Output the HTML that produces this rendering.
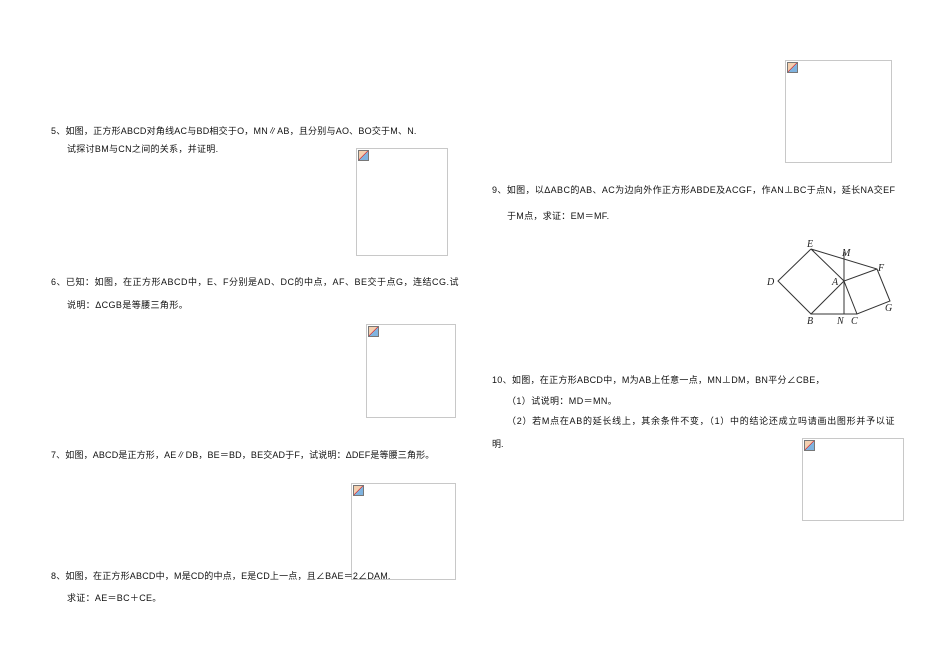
<!DOCTYPE html>
<html><head><meta charset="utf-8"><style>
body{margin:0;width:950px;height:671px;background:#fff;position:relative;overflow:hidden;font-family:"Liberation Sans","Noto Sans CJK SC",sans-serif;font-size:9px;color:#111}
.t{position:absolute;white-space:nowrap;line-height:10px}
.b{position:absolute;border:1px solid #c8c8c8;box-sizing:border-box}
.b i{position:absolute;left:1px;top:1px;width:11px;height:11px;background:linear-gradient(135deg,#f4d0b0 0 45%,#d33 45% 52%,#7fb3df 52%);border:1px solid #777;box-sizing:border-box}
</style></head><body>
<div class="b" style="left:785px;top:60px;width:107px;height:103px"><i></i></div>
<div class="b" style="left:356px;top:148px;width:92px;height:108px"><i></i></div>
<div class="b" style="left:366px;top:324px;width:90px;height:94px"><i></i></div>
<div class="b" style="left:351px;top:483px;width:105px;height:97px"><i></i></div>
<div class="b" style="left:802px;top:438px;width:102px;height:83px"><i></i></div>

<div class="t" style="left:51px;top:126px;letter-spacing:0.22px">5、如图，正方形ABCD对角线AC与BD相交于O，MN∥AB，且分别与AO、BO交于M、N.</div>
<div class="t" style="left:67px;top:144px;letter-spacing:0.3px">试探讨BM与CN之间的关系，并证明.</div>
<div class="t" style="left:51px;top:277px;letter-spacing:0.5px">6、已知：如图，在正方形ABCD中，E、F分别是AD、DC的中点，AF、BE交于点G，连结CG.试</div>
<div class="t" style="left:67px;top:300px;letter-spacing:0.4px">说明：ΔCGB是等腰三角形。</div>
<div class="t" style="left:51px;top:450px;letter-spacing:0.15px">7、如图，ABCD是正方形，AE∥DB，BE＝BD，BE交AD于F，试说明：ΔDEF是等腰三角形。</div>
<div class="t" style="left:51px;top:571px;letter-spacing:0.2px">8、如图，在正方形ABCD中，M是CD的中点，E是CD上一点，且∠BAE＝2∠DAM.</div>
<div class="t" style="left:67px;top:593px;letter-spacing:0.3px">求证：AE＝BC＋CE。</div>
<div class="t" style="left:492px;top:185px;letter-spacing:0.38px">9、如图，以ΔABC的AB、AC为边向外作正方形ABDE及ACGF，作AN⊥BC于点N，延长NA交EF</div>
<div class="t" style="left:507px;top:211px;letter-spacing:0.3px">于M点，求证：EM＝MF.</div>
<div class="t" style="left:492px;top:375px;letter-spacing:0.3px">10、如图，在正方形ABCD中，M为AB上任意一点，MN⊥DM，BN平分∠CBE，</div>
<div class="t" style="left:507px;top:396px;letter-spacing:0.4px">（1）试说明：MD＝MN。</div>
<div class="t" style="left:507px;top:416px;letter-spacing:0.72px">（2）若M点在AB的延长线上，其余条件不变，（1）中的结论还成立吗请画出图形并予以证</div>
<div class="t" style="left:492px;top:439px">明.</div>

<svg style="position:absolute;left:0;top:0" width="950" height="671">
<g stroke="#333" stroke-width="1" fill="none">
<polyline points="811,249 778,281 811,314 844,281 811,249 877,269 890,301 857,314 844,281 877,269"/>
<line x1="811" y1="314" x2="857" y2="314"/>
<line x1="844" y1="252" x2="844" y2="314"/>
</g>
<g font-family="Liberation Serif,serif" font-style="italic" font-size="10" fill="#222">
<text x="807" y="247">E</text><text x="842" y="256">M</text><text x="878" y="271">F</text>
<text x="767" y="285">D</text><text x="832" y="285">A</text><text x="885" y="311">G</text>
<text x="807" y="324">B</text><text x="837" y="324">N</text><text x="851" y="324">C</text>
</g>
</svg>
</body></html>
